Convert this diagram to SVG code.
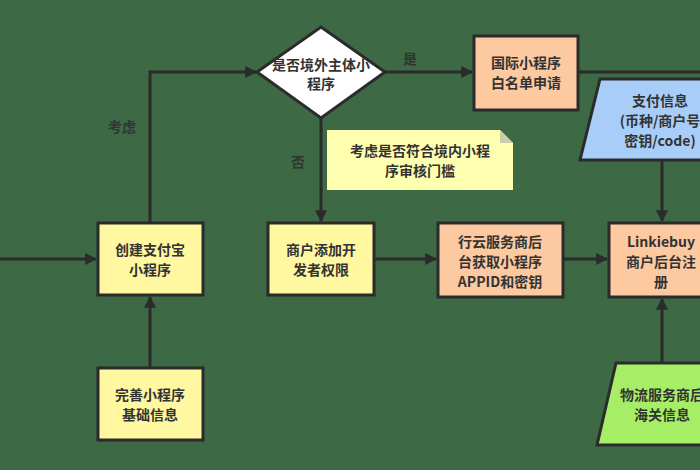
<svg xmlns="http://www.w3.org/2000/svg" width="700" height="470" viewBox="0 0 700 470">
<style>
text{font-family:"Noto Sans CJK SC","Liberation Sans",sans-serif;font-size:14px;font-weight:bold;fill:#333;text-anchor:middle}
.n{stroke:#2b2b2b;stroke-width:3}
.c{stroke:#2b2b2b;stroke-width:3;fill:none}
</style>
<defs><marker id="a" viewBox="0 0 10 10" refX="9" refY="5" markerWidth="4" markerHeight="4" orient="auto"><path d="M0,0L10,5L0,10z" fill="#2b2b2b"/></marker></defs>
<rect width="700" height="470" fill="#3d6945"/>
<g id="connectors">
<path class="c" d="M0,259H96" marker-end="url(#a)"/>
<path class="c" d="M150,223V72H256" marker-end="url(#a)"/>
<path class="c" d="M385,72H472" marker-end="url(#a)"/>
<path class="c" d="M321,118V221" marker-end="url(#a)"/>
<path class="c" d="M374,259H436" marker-end="url(#a)"/>
<path class="c" d="M563,259H607" marker-end="url(#a)"/>
<path class="c" d="M150,368V297" marker-end="url(#a)"/>
<path class="c" d="M578,72H700"/>
<path class="c" d="M662,160V221" marker-end="url(#a)"/>
<path class="c" d="M662,363V299" marker-end="url(#a)"/>
<text x="122" y="132">考虑</text>
<text x="410" y="64">是</text>
<text x="298" y="167">否</text>
</g>
<g id="diamond"><path class="n" fill="#fff" d="M321,27L385,72L321,118L257,72z"/><text x="321" y="70">是否境外主体小</text><text x="321" y="89">程序</text></g>
<g id="intl"><rect class="n" fill="#fdc9a0" x="474" y="36" width="104" height="74"/><text x="526" y="68">国际小程序</text><text x="526" y="88">白名单申请</text></g>
<g id="pay"><path class="n" fill="#a8cdf8" d="M600,79H712V160H580z"/><text x="660" y="106">支付信息</text><text x="660" y="126">(币种/商户号</text><text x="660" y="146">密钥/code)</text></g>
<g id="note"><path fill="#ffffb0" d="M327,130H500L513,143V190H327z"/><path fill="#ccccaa" d="M500,130V143H513z"/><text x="420" y="156">考虑是否符合境内小程</text><text x="420" y="176">序审核门槛</text></g>
<g id="create"><rect class="n" fill="#fff8a0" x="98" y="223" width="105" height="72"/><text x="150" y="255">创建支付宝</text><text x="150" y="275">小程序</text></g>
<g id="dev"><rect class="n" fill="#fff8a0" x="268" y="223" width="106" height="72"/><text x="321" y="255">商户添加开</text><text x="321" y="275">发者权限</text></g>
<g id="xy"><rect class="n" fill="#fdc9a0" x="438" y="223" width="125" height="74"/><text x="500" y="247">行云服务商后</text><text x="500" y="267">台获取小程序</text><text x="500" y="287">APPID和密钥</text></g>
<g id="link"><rect class="n" fill="#fdc9a0" x="609" y="223" width="104" height="74"/><text x="661" y="247">Linkiebuy</text><text x="661" y="267">商户后台注</text><text x="661" y="287">册</text></g>
<g id="perfect"><rect class="n" fill="#fff8a0" x="98" y="368" width="105" height="72"/><text x="150" y="400">完善小程序</text><text x="150" y="420">基础信息</text></g>
<g id="logi"><path class="n" fill="#a6ee66" d="M616,363H712V445H597z"/><text x="662" y="400">物流服务商后</text><text x="662" y="420">海关信息</text></g>
</svg>
